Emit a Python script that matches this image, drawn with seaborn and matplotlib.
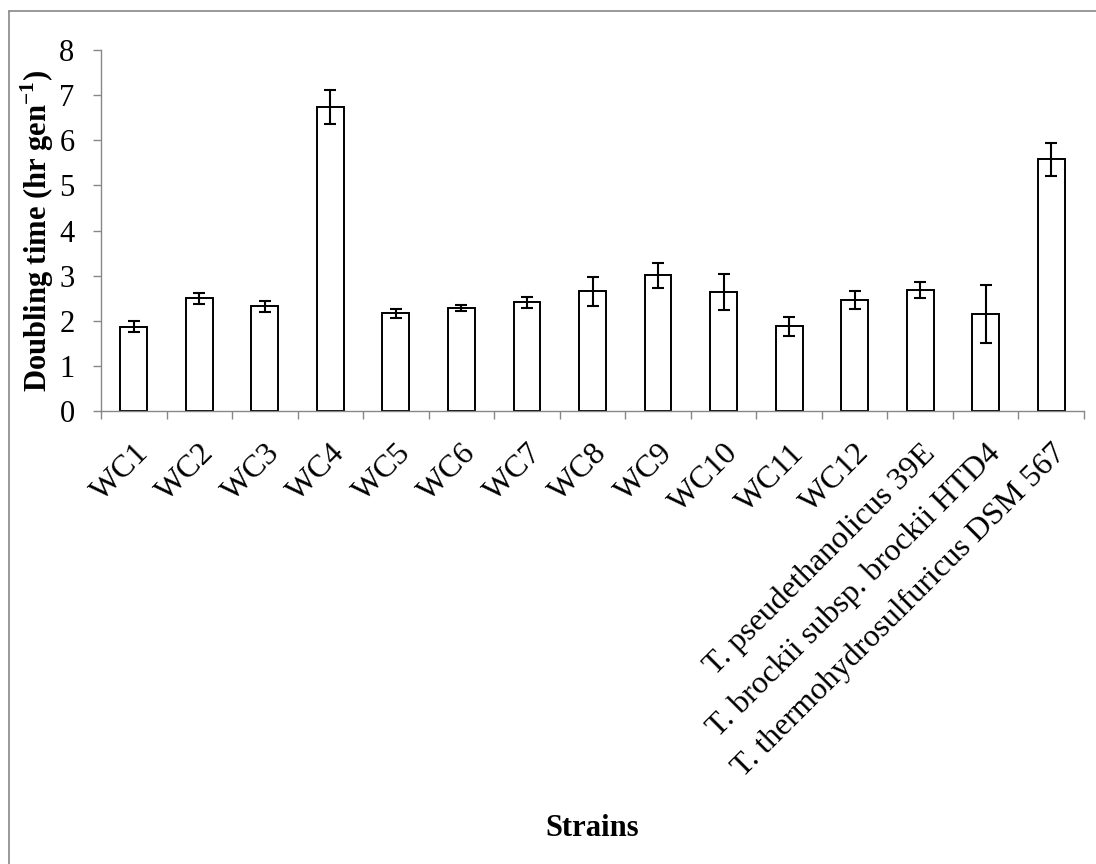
import matplotlib
matplotlib.use("Agg")
import matplotlib.pyplot as plt
import seaborn as sns
import pandas as pd
from matplotlib.lines import Line2D

strains = ["WC1", "WC2", "WC3", "WC4", "WC5", "WC6", "WC7", "WC8", "WC9",
           "WC10", "WC11", "WC12", "T. pseudethanolicus 39E",
           "T. brockii subsp. brockii HTD4", "T. thermohydrosulfuricus DSM 567"]
doubling = [1.87, 2.50, 2.32, 6.74, 2.17, 2.28, 2.41, 2.65, 3.01,
            2.63, 1.88, 2.45, 2.68, 2.15, 5.58]
errors = [0.12, 0.12, 0.12, 0.38, 0.10, 0.07, 0.12, 0.33, 0.28,
          0.40, 0.21, 0.20, 0.17, 0.64, 0.37]

df = pd.DataFrame({"Strain": strains, "Doubling": doubling, "Err": errors})

sns.set_style("ticks")
plt.rcParams["font.family"] = ["Liberation Serif", "DejaVu Serif"]
plt.rcParams["mathtext.fontset"] = "custom"
plt.rcParams["mathtext.rm"] = "Liberation Serif"
plt.rcParams["mathtext.bf"] = "Liberation Serif:bold"
plt.rcParams.update({"text.color": "black", "axes.labelcolor": "black",
                     "xtick.labelcolor": "black", "ytick.labelcolor": "black"})

grey = "#878787"

fig = plt.figure(figsize=(10.96, 8.64), dpi=100)
ax = fig.add_axes([101 / 1096, 1 - 411 / 864, 983 / 1096, 361 / 864])

sns.barplot(data=df, x="Strain", y="Doubling", color="white", edgecolor="black",
            linewidth=1.4, width=0.41, errorbar=None, ax=ax)
ax.errorbar(range(len(strains)), df["Doubling"], yerr=df["Err"], fmt="none",
            ecolor="black", elinewidth=1.5, capsize=4, capthick=1.5)

ax.set_xlim(-0.5, len(strains) - 0.5)
ax.set_ylim(0, 8)
ax.set_yticks(range(0, 9))
ax.tick_params(axis="y", labelsize=22, length=6, width=1, color=grey, pad=13)

# category ticks sit between bars, labels sit under bars
ax.set_xticks([i - 0.5 for i in range(len(strains) + 1)])
ax.set_xticklabels([])
ax.set_xticks(range(len(strains)), minor=True)
ax.set_xticklabels(strains, minor=True, rotation=45, ha="right", va="top",
                   rotation_mode="anchor", fontsize=23)
ax.tick_params(axis="x", which="major", length=6, width=1, color=grey)
ax.tick_params(axis="x", which="minor", length=0, pad=20)

for side in ["top", "right"]:
    ax.spines[side].set_visible(False)
for side in ["left", "bottom"]:
    ax.spines[side].set_color(grey)
    ax.spines[side].set_linewidth(1)

ax.set_xlabel("Strains", fontsize=22, fontweight="bold", va="center")
ax.xaxis.set_label_coords(0.5, (411 - 828) / 361)
ax.set_ylabel(r"Doubling time (hr gen$^{\mathbf{-1}}$)", fontsize=22,
              fontweight="bold", va="center")
ax.yaxis.set_label_coords((37 - 101) / 983, 0.5)

# chart-area border (left and top edge only visible)
fig.add_artist(Line2D([9 / 1096, 9 / 1096], [-0.01, 1 - 11 / 864],
                      transform=fig.transFigure, color=grey, lw=1.2))
fig.add_artist(Line2D([9 / 1096, 1.01], [1 - 11 / 864, 1 - 11 / 864],
                      transform=fig.transFigure, color=grey, lw=1.2))

fig.savefig("out.png", dpi=100)
